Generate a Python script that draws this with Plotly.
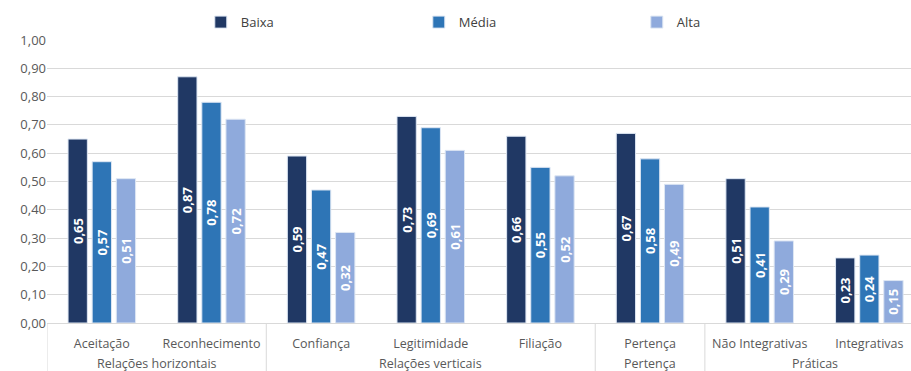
import plotly.graph_objects as go

groups = ["Relações horizontais", "Relações horizontais", "Relações verticais", "Relações verticais",
          "Relações verticais", "Pertença", "Práticas", "Práticas"]
categories = ["Aceitação", "Reconhecimento", "Confiança", "Legitimidade", "Filiação",
              "Pertença", "Não Integrativas", "Integrativas"]
baixa = [0.65, 0.87, 0.59, 0.73, 0.66, 0.67, 0.51, 0.23]
media = [0.57, 0.78, 0.47, 0.69, 0.55, 0.58, 0.41, 0.24]
alta = [0.51, 0.72, 0.32, 0.61, 0.52, 0.49, 0.29, 0.15]
series = [("Baixa", baixa, "#203864"), ("Média", media, "#2E75B6"), ("Alta", alta, "#8FAADC")]
yticks = [i / 10 for i in range(11)]

fig = go.Figure()
for name, vals, col in series:
    fig.add_trace(go.Bar(
        x=categories, y=vals, name=name,
        marker=dict(color=col, line=dict(color="#DDE6F3", width=1)),
        text=[f"{v:.2f}".replace(".", ",") for v in vals],
        textposition="inside", insidetextanchor="middle", textangle=-90,
        constraintext="none",
        textfont=dict(color="white", size=13, family="Open Sans", weight="bold"),
        cliponaxis=False,
    ))

# group labels and dividers along the category axis
grid_col = "#D9D9D9"
order = []
for g in groups:
    if g not in order:
        order.append(g)
for g in order:
    idx = [i for i, gg in enumerate(groups) if gg == g]
    fig.add_annotation(x=(idx[0] + idx[-1]) / 2, xref="x", y=-0.142, yref="paper",
                       text=g, showarrow=False, yanchor="middle",
                       font=dict(size=12.5, color="#595959"))
    fig.add_shape(type="line", xref="x", yref="paper", x0=idx[0] - 0.5, x1=idx[0] - 0.5,
                  y0=0, y1=-0.2, line=dict(color=grid_col, width=1))

fig.update_layout(
    width=911, height=371,
    margin=dict(l=47, r=0, t=40, b=48, autoexpand=False),
    paper_bgcolor="white", plot_bgcolor="white",
    barmode="group", bargap=0.34, bargroupgap=0.2,
    separators=",.",
    font=dict(family="Open Sans", color="#595959", size=12),
    showlegend=True,
    legend=dict(orientation="h", x=0.178, xanchor="left", y=1.01, yanchor="bottom",
                entrywidth=173, entrywidthmode="pixels",
                font=dict(size=13, color="#404040"), traceorder="normal"),
)
fig.update_xaxes(
    type="category", range=[-0.5, 7.38], showgrid=False, showline=True, linecolor=grid_col,
    tickfont=dict(size=12.5, color="#595959"), tickangle=0,
    ticks="", ticklabelstandoff=9,
)
fig.update_yaxes(
    range=[0, 1], tickvals=yticks, tickformat=".2f",
    showgrid=True, gridcolor=grid_col, gridwidth=1, zeroline=False,
    tickfont=dict(size=13, color="#595959"), ticks="", ticklen=0,
)
fig.write_html("out.html")
